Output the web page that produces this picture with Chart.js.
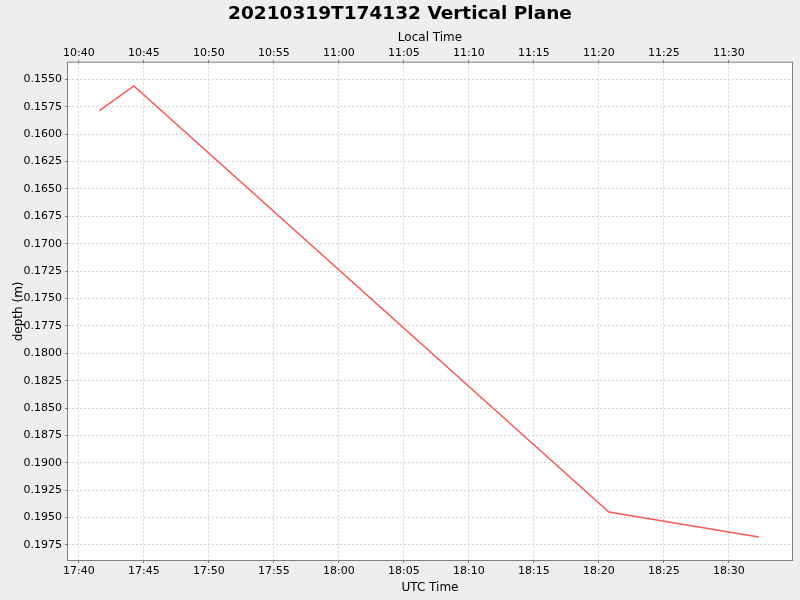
<!DOCTYPE html>
<html>
<head>
<meta charset="utf-8">
<script src="https://cdn.jsdelivr.net/npm/chart.js@4/dist/chart.umd.min.js"></script>
<style>
  html, body { margin: 0; padding: 0; background: #eeeeee; }
  #wrap { width: 800px; height: 600px; }
</style>
</head>
<body>
<div id="wrap"><canvas id="depthChart" width="800" height="600"></canvas></div>
<script>
// samples (UTC clock time, depth in metres)
const utcTimes = ["17:41:35", "17:44:14", "18:20:46", "18:32:18"];
const depths = [0.15785, 0.1556, 0.19449, 0.19677];

const utcOffsetHours = -7; // local = UTC - 7h
const xStart = "17:39:10";
const xEnd = "18:34:51";
const depthMin = 0.15348;
const depthMax = 0.19887;

const toMinutes = t => {
  const [h, m, s] = t.split(":").map(Number);
  return h * 60 + m + (s || 0) / 60;
};
const fmtClock = (mins, shift) => {
  let total = Math.round(mins + shift * 60);
  total = ((total % 1440) + 1440) % 1440;
  const h = Math.floor(total / 60);
  const m = total % 60;
  return String(h).padStart(2, "0") + ":" + String(m).padStart(2, "0");
};

const points = utcTimes.map((t, i) => ({ x: toMinutes(t), y: depths[i] }));

const FONT = "'DejaVu Sans', sans-serif";

const plotFrame = {
  id: "plotFrame",
  beforeDraw(chart) {
    const { ctx, chartArea: a } = chart;
    ctx.save();
    ctx.fillStyle = "#eeeeee";
    ctx.fillRect(0, 0, chart.width, chart.height);
    ctx.fillStyle = "#ffffff";
    ctx.fillRect(a.left, a.top, a.right - a.left, a.bottom - a.top);
    ctx.restore();
  },
  afterDatasetsDraw(chart) {
    const { ctx, chartArea: a } = chart;
    ctx.save();
    ctx.strokeStyle = "#808080";
    ctx.lineWidth = 1;
    ctx.strokeRect(a.left - 0.5, a.top - 0.5, a.right - a.left + 1, a.bottom - a.top + 1);
    ctx.restore();
  },
};

new Chart(document.getElementById("depthChart"), {
  type: "line",
  data: {
    datasets: [
      {
        label: "depth",
        data: points,
        borderColor: "#ff5555",
        borderWidth: 1.4,
        pointRadius: 0,
        tension: 0,
        fill: false,
      },
    ],
  },
  options: {
    responsive: false,
    animation: false,
    layout: { padding: 0 },
    plugins: {
      legend: { display: false },
      tooltip: { enabled: false },
      title: {
        display: true,
        text: "20210319T174132 Vertical Plane",
        color: "#000000",
        font: { family: FONT, size: 18.5, weight: "bold", lineHeight: 1.2 },
        padding: { top: 3, bottom: 3 },
      },
    },
    scales: {
      x: {
        type: "linear",
        position: "bottom",
        min: toMinutes(xStart),
        max: toMinutes(xEnd),
        afterFit: s => { s.height = 40; },
        ticks: {
          stepSize: 5,
          includeBounds: false,
          autoSkip: false,
          maxRotation: 0,
          color: "#000000",
          padding: 2,
          font: { family: FONT, size: 11 },
          callback: v => fmtClock(v, 0),
        },
        grid: { color: "#d4d4d4", tickColor: "#808080", tickLength: 3, lineWidth: 1 },
        border: { display: false, dash: [2, 2] },
        title: {
          display: true,
          text: "UTC Time",
          color: "#000000",
          font: { family: FONT, size: 12 },
          padding: { top: 0, bottom: 5 },
        },
      },
      x2: {
        type: "linear",
        position: "top",
        min: toMinutes(xStart),
        max: toMinutes(xEnd),
        afterFit: s => { s.height = 34.5; },
        ticks: {
          stepSize: 5,
          includeBounds: false,
          autoSkip: false,
          maxRotation: 0,
          color: "#000000",
          padding: 0,
          font: { family: FONT, size: 11 },
          callback: v => fmtClock(v, utcOffsetHours),
        },
        grid: { drawOnChartArea: false, tickColor: "#808080", tickLength: 3 },
        border: { display: false },
        title: {
          display: true,
          text: "Local Time",
          color: "#000000",
          font: { family: FONT, size: 12 },
          padding: { top: 2, bottom: 0 },
        },
      },
      y: {
        type: "linear",
        reverse: true,
        min: depthMin,
        max: depthMax,
        afterFit: s => { s.width = 68; },
        ticks: {
          stepSize: 0.0025,
          includeBounds: false,
          autoSkip: false,
          color: "#000000",
          padding: 3,
          font: { family: FONT, size: 11 },
          callback: v => v.toFixed(4),
        },
        grid: { color: "#d4d4d4", tickColor: "#808080", tickLength: 3, lineWidth: 1 },
        border: { display: false, dash: [2, 2] },
        title: {
          display: true,
          text: "depth (m)",
          color: "#000000",
          font: { family: FONT, size: 12 },
          padding: { top: 12, bottom: 0 },
        },
      },
      // empty right-hand strip so the plot ends 8px before the edge
      yGap: {
        type: "linear",
        position: "right",
        afterFit: s => { s.width = 8; },
        ticks: { display: false },
        grid: { display: false },
        border: { display: false },
      },
    },
  },
  plugins: [plotFrame],
});
</script>
</body>
</html>
